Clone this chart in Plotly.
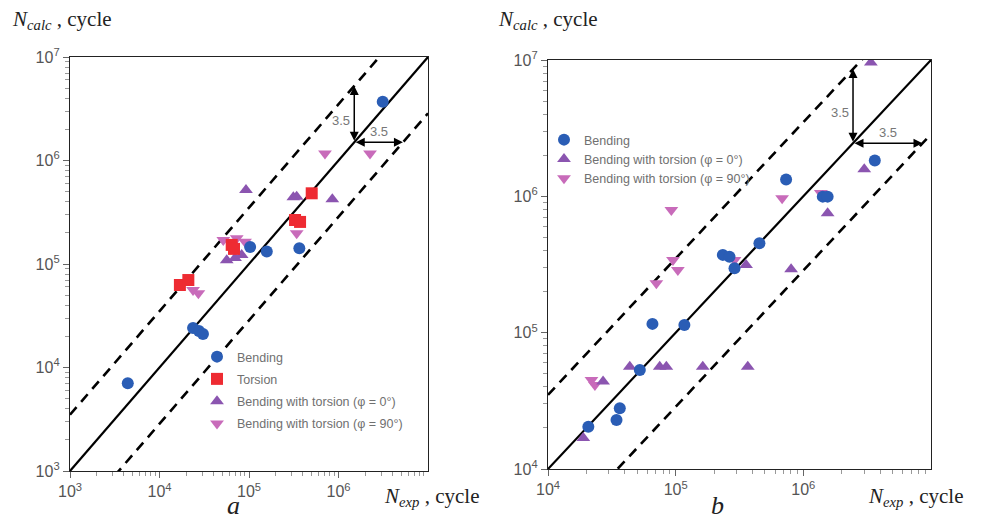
import math
import plotly.graph_objects as go

# ---------------- data : panel a ----------------
a_bend_x = [3.12e6, 3.65e5, 1.58e5, 1.03e5, 2.37e4, 2.76e4, 3.06e4, 4.42e3]
a_bend_y = [3.70e6, 1.42e5, 1.32e5, 1.46e5, 2.41e4, 2.25e4, 2.11e4, 7.03e3]
a_tors_x = [5.02e5, 3.27e5, 3.72e5, 6.41e4, 6.8e4, 1.69e4, 2.10e4]
a_tors_y = [4.82e5, 2.66e5, 2.55e5, 1.53e5, 1.40e5, 6.27e4, 7.0e4]
a_bt0_x = [9.25e4, 3.13e5, 3.41e5, 8.53e5, 5.64e4, 6.98e4, 8.28e4]
a_bt0_y = [5.19e5, 4.41e5, 4.47e5, 4.22e5, 1.09e5, 1.14e5, 1.22e5]
a_bt90_x = [7.06e5, 2.25e6, 3.41e5, 5.16e4, 7.29e4, 9.02e4, 2.72e4, 2.37e4]
a_bt90_y = [1.17e6, 1.17e6, 1.98e5, 1.71e5, 1.77e5, 1.64e5, 5.21e4, 5.61e4]

# ---------------- data : panel b ----------------
b_bend_x = [3.63e6, 7.33e5, 1.42e6, 1.55e6, 4.53e5, 2.34e5, 2.64e5, 2.89e5,
            6.58e4, 1.17e5, 5.24e4, 3.65e4, 3.44e4, 2.07e4]
b_bend_y = [1.83e6, 1.33e6, 9.95e5, 9.95e5, 4.53e5, 3.72e5, 3.61e5, 2.97e5,
            1.16e5, 1.14e5, 5.32e4, 2.79e4, 2.29e4, 2.04e4]
b_bt0_x = [3.38e6, 3.00e6, 1.55e6, 8.02e5, 3.56e5, 4.37e4, 7.5e4, 8.45e4,
           1.63e5, 3.67e5, 2.70e4, 1.89e4]
b_bt0_y = [9.57e6, 1.58e6, 7.52e5, 2.92e5, 3.14e5, 5.63e4, 5.63e4, 5.63e4,
           5.63e4, 5.63e4, 4.38e4, 1.69e4]
b_bt90_x = [6.82e5, 1.37e6, 9.25e4, 9.53e4, 1.04e5, 7.06e4, 2.89e5, 2.19e4, 2.33e4]
b_bt90_y = [9.68e5, 1.06e6, 7.94e5, 3.41e5, 2.88e5, 2.30e5, 3.41e5, 4.50e4, 4.13e4]

# axes ranges / ticks
a_range = [1e3, 1e7]
b_range = [1e4, 1e7]
a_xticks = [1e3, 1e4, 1e5, 1e6]
a_xticktext = ["10<sup>3</sup>", "10<sup>4</sup>", "10<sup>5</sup>", "10<sup>6</sup>"]
a_yticks = [1e3, 1e4, 1e5, 1e6, 1e7]
a_yticktext = ["10<sup>3</sup>", "10<sup>4</sup>", "10<sup>5</sup>", "10<sup>6</sup>", "10<sup>7</sup>"]
b_xticks = [1e4, 1e5, 1e6]
b_xticktext = ["10<sup>4</sup>", "10<sup>5</sup>", "10<sup>6</sup>"]
b_yticks = [1e4, 1e5, 1e6, 1e7]
b_yticktext = ["10<sup>4</sup>", "10<sup>5</sup>", "10<sup>6</sup>", "10<sup>7</sup>"]

band = 3.5           # scatter band factor
a_arrow = 1.5e6      # where the 3.5 arrows sit
b_arrow = 2.45e6

labels = ["Bending", "Torsion", "Bending with torsion (\u03c6 = 0\u00b0)",
          "Bending with torsion (\u03c6 = 90\u00b0)"]

BLUE = "#2a5db5"
RED = "#ee2b32"
PURPLE = "#8b55b0"
PINK = "#c86bba"

W, H = 982, 520
fig = go.Figure()

def px_x(p):
    return p / W

def px_y(p):
    return 1 - p / H

def minor_vals(rng):
    lo, hi = int(round(math.log10(rng[0]))), int(round(math.log10(rng[1])))
    return [k * 10 ** e for e in range(lo, hi) for k in range(2, 10)]

def lines(xa, ya, rng):
    lo, hi = rng
    fig.add_trace(go.Scatter(x=[lo, hi], y=[lo, hi], mode="lines", xaxis=xa, yaxis=ya,
                             line=dict(color="black", width=2.2), showlegend=False,
                             hoverinfo="skip"))
    fig.add_trace(go.Scatter(x=[lo, hi], y=[lo * band, hi * band], mode="lines", xaxis=xa, yaxis=ya,
                             line=dict(color="black", width=2.6, dash="10px,7px"),
                             showlegend=False, hoverinfo="skip"))
    fig.add_trace(go.Scatter(x=[lo, hi], y=[lo / band, hi / band], mode="lines", xaxis=xa, yaxis=ya,
                             line=dict(color="black", width=2.6, dash="10px,7px"),
                             showlegend=False, hoverinfo="skip"))

lines("x", "y", a_range)
lines("x2", "y2", b_range)

def pts(x, y, xa, ya, name, color, symbol, legend, rank):
    fig.add_trace(go.Scatter(x=x, y=y, mode="markers", xaxis=xa, yaxis=ya, name=name,
                             legend=legend, legendgroup="%s%d" % (legend, rank), legendrank=rank,
                             marker=dict(color=color, symbol=symbol, size=12,
                                         line=dict(width=0))))

pts(a_bt90_x, a_bt90_y, "x", "y", labels[3], PINK, "triangle-down", "legend", 4)
pts(a_bt0_x, a_bt0_y, "x", "y", labels[2], PURPLE, "triangle-up", "legend", 3)
pts(a_tors_x, a_tors_y, "x", "y", labels[1], RED, "square", "legend", 2)
pts(a_bend_x, a_bend_y, "x", "y", labels[0], BLUE, "circle", "legend", 1)

pts(b_bt90_x, b_bt90_y, "x2", "y2", labels[3], PINK, "triangle-down", "legend2", 3)
pts(b_bt0_x, b_bt0_y, "x2", "y2", labels[2], PURPLE, "triangle-up", "legend2", 2)
pts(b_bend_x, b_bend_y, "x2", "y2", labels[0], BLUE, "circle", "legend2", 1)

tickfont = dict(family="Liberation Sans, Arial", size=16, color="#555")

def axis(domain, anchor, rng, tv, tt):
    return dict(type="log", domain=domain, anchor=anchor, automargin=False,
                range=[math.log10(rng[0]), math.log10(rng[1])],
                tickmode="array", tickvals=tv, ticktext=tt,
                showgrid=False, zeroline=False, showline=True,
                linecolor="#222", linewidth=1.3, mirror=True,
                ticks="outside", ticklen=6, tickcolor="#666", tickwidth=1,
                tickfont=tickfont,
                minor=dict(tickmode="array", tickvals=minor_vals(rng), ticks="outside",
                           ticklen=4, tickcolor="#999", tickwidth=1, showgrid=False))

legfont = dict(family="Liberation Sans, Arial", size=12.5, color="#707070")
fig.update_layout(
    width=W, height=H, margin=dict(l=0, r=0, t=0, b=0, autoexpand=False),
    paper_bgcolor="white", plot_bgcolor="white",
    xaxis=axis([px_x(70), px_x(428)], "y", a_range, a_xticks, a_xticktext),
    yaxis=axis([px_y(471), px_y(57)], "x", a_range, a_yticks, a_yticktext),
    xaxis2=axis([px_x(548), px_x(931)], "y2", b_range, b_xticks, b_xticktext),
    yaxis2=axis([px_y(469), px_y(60)], "x2", b_range, b_yticks, b_yticktext),
    legend=dict(x=px_x(197), y=px_y(342), xanchor="left", yanchor="top",
                bgcolor="rgba(0,0,0,0)", traceorder="grouped", tracegroupgap=3,
                font=legfont),
    legend2=dict(x=px_x(544), y=px_y(125), xanchor="left", yanchor="top",
                 bgcolor="rgba(0,0,0,0)", traceorder="grouped", tracegroupgap=0,
                 font=legfont),
)

# arrows
def arrow(xa, ya, x0, y0, x1, y1):
    fig.add_annotation(x=math.log10(x1), y=math.log10(y1), ax=math.log10(x0), ay=math.log10(y0),
                       xref=xa, yref=ya, axref=xa, ayref=ya, text="", showarrow=True,
                       arrowhead=2, startarrowhead=2, arrowside="end+start",
                       arrowsize=1.2, arrowwidth=1.5, arrowcolor="black")

lblfont = dict(family="Liberation Sans, Arial", size=13, color="#777")
for xa, ya, v in [("x", "y", a_arrow), ("x2", "y2", b_arrow)]:
    arrow(xa, ya, v, v, v, v * band)
    arrow(xa, ya, v, v, v * band, v)
    mid = math.log10(v) + math.log10(band) / 2
    fig.add_annotation(x=math.log10(v), y=mid, xref=xa, yref=ya, text="3.5", showarrow=False,
                       xanchor="right", xshift=-2, yshift=-6, font=lblfont)
    fig.add_annotation(x=mid, y=math.log10(v), xref=xa, yref=ya, text="3.5", showarrow=False,
                       yanchor="bottom", yshift=1, font=lblfont)

serif = "Liberation Serif, Times New Roman"
title_font = dict(family=serif, size=21, color="#222")
for x0 in (10, 496):
    fig.add_annotation(x=px_x(x0), y=px_y(20), xref="paper", yref="paper", xanchor="left",
                       yanchor="middle", showarrow=False, font=title_font,
                       text="<i>N</i><sub><i>calc</i></sub> , cycle")
for x0 in (382, 866):
    fig.add_annotation(x=px_x(x0), y=px_y(497), xref="paper", yref="paper", xanchor="left",
                       yanchor="middle", showarrow=False, font=title_font,
                       text="<i>N</i><sub><i>exp</i></sub> , cycle")
for x0, t in ((233, "a"), (717, "b")):
    fig.add_annotation(x=px_x(x0), y=px_y(505), xref="paper", yref="paper", xanchor="center",
                       yanchor="middle", showarrow=False,
                       font=dict(family=serif, size=26, color="#222"), text="<i>%s</i>" % t)

fig.write_html("out.html", config={"displayModeBar": False},
               post_script="document.body.style.margin='0';document.body.style.overflow='hidden';")
